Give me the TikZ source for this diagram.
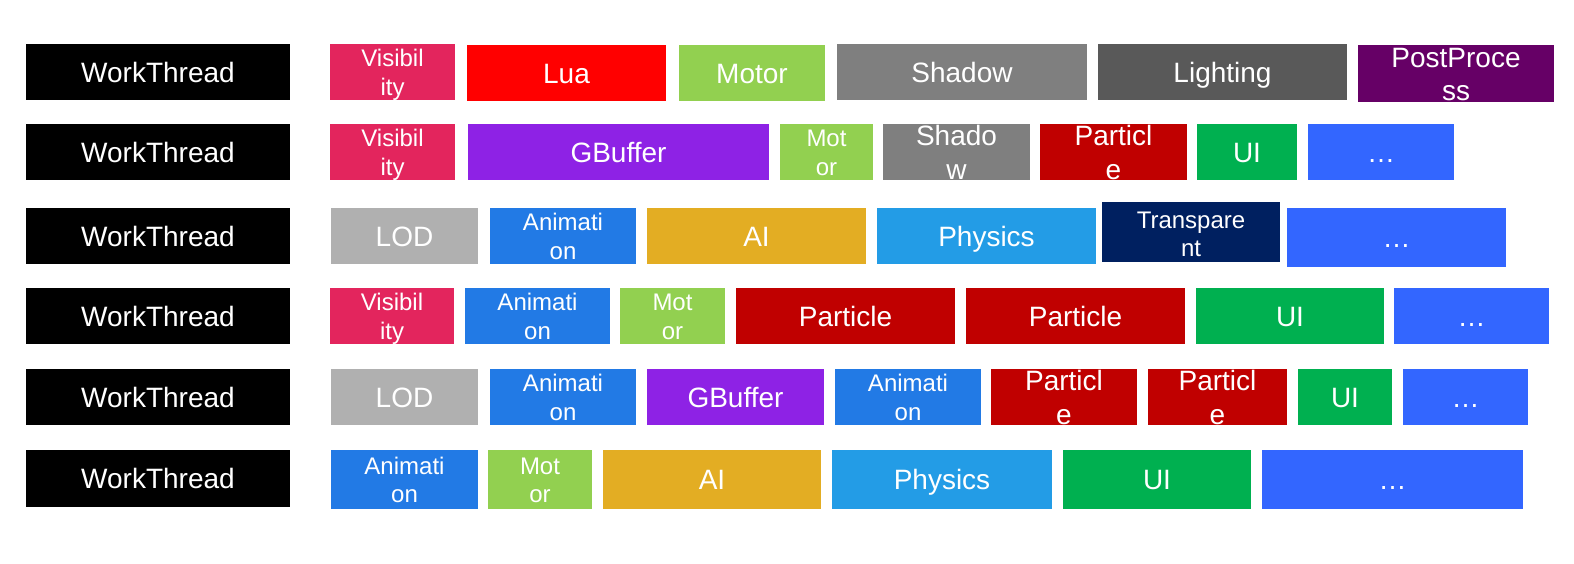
\documentclass[tikz,border=0pt]{standalone}
\usepackage{fontspec}
\setmainfont{Liberation Sans}
\definecolor{cVis}{HTML}{E3255D}
\definecolor{cLua}{HTML}{FF0000}
\definecolor{cMotor}{HTML}{92D050}
\definecolor{cShadow}{HTML}{7F7F7F}
\definecolor{cLight}{HTML}{595959}
\definecolor{cPost}{HTML}{660066}
\definecolor{cGB}{HTML}{8E22E5}
\definecolor{cPart}{HTML}{C00000}
\definecolor{cUI}{HTML}{00B050}
\definecolor{cDots}{HTML}{3366FF}
\definecolor{cLOD}{HTML}{B0B0B0}
\definecolor{cAnim}{HTML}{227AE5}
\definecolor{cAI}{HTML}{E3AD23}
\definecolor{cPhys}{HTML}{239CE6}
\definecolor{cTrans}{HTML}{002060}
\newcommand\bigf{\fontsize{28}{33.6}\selectfont}
\newcommand\smf{\fontsize{24}{28.8}\selectfont}
\tikzset{
  cell/.style={inner sep=0pt, outer sep=0pt, draw=none},
  lbl/.style={text=white, inner sep=0pt, anchor=base}
}
% box: name, x1, x2, y1, y2, colour
\newcommand\bx[6]{\node[cell, fill=#6, minimum width={#3-#2}, minimum height={#5-#4}] (#1) at ({(#2+#3)/2},{(#4+#5)/2}) {};}
\newcommand\lone[2]{\node[lbl,font=\bigf] (#1-t) at ([yshift=-10pt]#1.center) {#2};}
\newcommand\ltwoS[3]{\node[lbl,font=\smf] (#1-t1) at ([yshift=5.5pt]#1.center) {#2};
  \node[lbl,font=\smf] (#1-t2) at ([yshift=-23pt]#1.center) {#3};}
\newcommand\ltwoL[3]{\node[lbl,font=\bigf] (#1-t1) at ([yshift=6.5pt]#1.center) {#2};
  \node[lbl,font=\bigf] (#1-t2) at ([yshift=-27pt]#1.center) {#3};}
\begin{document}
\begin{tikzpicture}[x=1pt,y=-1pt]
\path[fill=white, use as bounding box] (0,0) rectangle (1574,563);
% Row 1
\bx{w1}{26}{290}{44}{100}{black}\lone{w1}{WorkThread}
\bx{a1}{330}{455}{44}{100}{cVis}\ltwoS{a1}{Visibil}{ity}
\bx{b1}{467}{666}{45}{101}{cLua}\lone{b1}{Lua}
\bx{c1}{679}{825}{45}{101}{cMotor}\lone{c1}{Motor}
\bx{d1}{837}{1087}{44}{100}{cShadow}\lone{d1}{Shadow}
\bx{e1}{1098}{1347}{44}{100}{cLight}\lone{e1}{Lighting}
\bx{f1}{1358}{1554}{45}{102}{cPost}\ltwoL{f1}{PostProce}{ss}
% Row 2
\bx{w2}{26}{290}{124}{180}{black}\lone{w2}{WorkThread}
\bx{a2}{330}{455}{124}{180}{cVis}\ltwoS{a2}{Visibil}{ity}
\bx{b2}{468}{769}{124}{180}{cGB}\lone{b2}{GBuffer}
\bx{c2}{780}{873}{124}{180}{cMotor}\ltwoS{c2}{Mot}{or}
\bx{d2}{883}{1030}{124}{180}{cShadow}\ltwoL{d2}{Shado}{w}
\bx{e2}{1040}{1187}{124}{180}{cPart}\ltwoL{e2}{Particl}{e}
\bx{f2}{1197}{1297}{124}{180}{cUI}\lone{f2}{UI}
\bx{g2}{1308}{1454}{124}{180}{cDots}\lone{g2}{…}
% Row 3
\bx{w3}{26}{290}{208}{264}{black}\lone{w3}{WorkThread}
\bx{a3}{331}{478}{208}{264}{cLOD}\lone{a3}{LOD}
\bx{b3}{490}{636}{208}{264}{cAnim}\ltwoS{b3}{Animati}{on}
\bx{c3}{647}{866}{208}{264}{cAI}\lone{c3}{AI}
\bx{d3}{877}{1096}{208}{264}{cPhys}\lone{d3}{Physics}
\bx{e3}{1102}{1280}{202}{262}{cTrans}
\node[lbl,font=\smf] (e3-t1) at ([yshift=4pt]e3.center) {Transpare};
\node[lbl,font=\smf] (e3-t2) at ([yshift=-24pt]e3.center) {nt};
\bx{f3}{1287}{1506}{208}{267}{cDots}\lone{f3}{…}
% Row 4
\bx{w4}{26}{290}{288}{344}{black}\lone{w4}{WorkThread}
\bx{a4}{330}{454}{288}{344}{cVis}\ltwoS{a4}{Visibil}{ity}
\bx{b4}{465}{610}{288}{344}{cAnim}\ltwoS{b4}{Animati}{on}
\bx{c4}{620}{725}{288}{344}{cMotor}\ltwoS{c4}{Mot}{or}
\bx{d4}{736}{955}{288}{344}{cPart}\lone{d4}{Particle}
\bx{e4}{966}{1185}{288}{344}{cPart}\lone{e4}{Particle}
\bx{f4}{1196}{1384}{288}{344}{cUI}\lone{f4}{UI}
\bx{g4}{1394}{1549}{288}{344}{cDots}\lone{g4}{…}
% Row 5
\bx{w5}{26}{290}{369}{425}{black}\lone{w5}{WorkThread}
\bx{a5}{331}{478}{369}{425}{cLOD}\lone{a5}{LOD}
\bx{b5}{490}{636}{369}{425}{cAnim}\ltwoS{b5}{Animati}{on}
\bx{c5}{647}{824}{369}{425}{cGB}\lone{c5}{GBuffer}
\bx{d5}{835}{981}{369}{425}{cAnim}\ltwoS{d5}{Animati}{on}
\bx{e5}{991}{1137}{369}{425}{cPart}\ltwoL{e5}{Particl}{e}
\bx{f5}{1148}{1287}{369}{425}{cPart}\ltwoL{f5}{Particl}{e}
\bx{g5}{1298}{1392}{369}{425}{cUI}\lone{g5}{UI}
\bx{h5}{1403}{1528}{369}{425}{cDots}\lone{h5}{…}
% Row 6
\bx{w6}{26}{290}{450}{507}{black}\lone{w6}{WorkThread}
\bx{a6}{331}{478}{450}{509}{cAnim}\ltwoS{a6}{Animati}{on}
\bx{b6}{488}{592}{450}{509}{cMotor}\ltwoS{b6}{Mot}{or}
\bx{c6}{603}{821}{450}{509}{cAI}\lone{c6}{AI}
\bx{d6}{832}{1052}{450}{509}{cPhys}\lone{d6}{Physics}
\bx{e6}{1063}{1251}{450}{509}{cUI}\lone{e6}{UI}
\bx{f6}{1262}{1523}{450}{509}{cDots}\lone{f6}{…}
\end{tikzpicture}
\end{document}
